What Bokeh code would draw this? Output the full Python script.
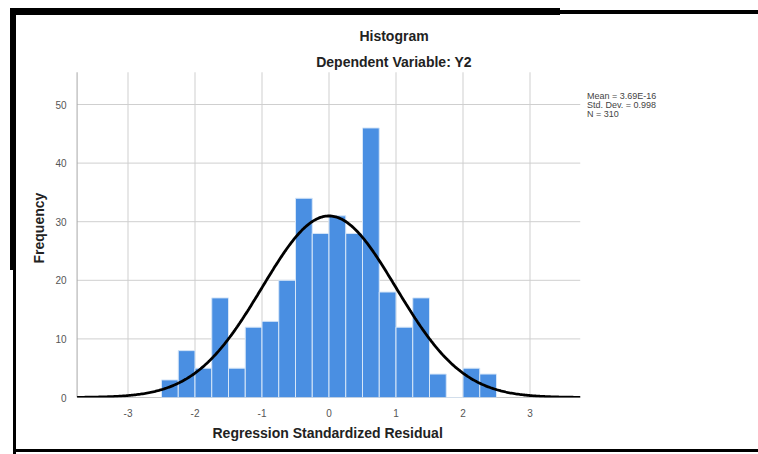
import numpy as np
from bokeh.plotting import figure
from bokeh.models import Range1d, Label, FixedTicker, Title
from bokeh.embed import file_html
from bokeh.resources import INLINE

# ---- data ----
bin_edges = [-2.5, -2.25, -2.0, -1.75, -1.5, -1.25, -1.0, -0.75, -0.5, -0.25, 0.0,
             0.25, 0.5, 0.75, 1.0, 1.25, 1.5, 1.75, 2.0, 2.25, 2.5]
counts = [3, 8, 5, 17, 5, 12, 13, 20, 34, 28, 31, 28, 46, 18, 12, 17, 4, 0, 5, 4]
x_ticks = [-3, -2, -1, 0, 1, 2, 3]
y_ticks = [0, 10, 20, 30, 40, 50]
axis_x_min, axis_x_max = -3.76, 3.75
axis_y_min, axis_y_max = 0, 55.5
stat_mean = 3.69e-16
stat_sd = 0.998
stat_n = 310
stats_lines = ["Mean = 3.69E-16", "Std. Dev. = 0.998", "N = 310"]
title_lines = ["Histogram", "Dependent Variable: Y2"]
x_label = "Regression Standardized Residual"
y_label = "Frequency"

FONT = "Liberation Sans"
W, H = 758, 454
FL, FT = 75, 0              # frame left / top (px)
FW, FH = W - FL, 397        # frame extends to the right edge and top edge
PX_PER_X = 67.0
PX_PER_Y = 5.86
ZERO_X_PX = 327.0
X0 = (FL - 1.5 - ZERO_X_PX) / PX_PER_X
X1 = (FL - 1.5 + FW - ZERO_X_PX) / PX_PER_X
Y0 = 0
Y1 = FH / PX_PER_Y

def dx(cx):
    return X0 + (cx - (FL - 1.5)) / PX_PER_X

def dy(cy):
    return (FT + FH - cy) / PX_PER_Y

p = figure(width=W, height=H, frame_width=FW, frame_height=FH,
           x_range=Range1d(X0, X1), y_range=Range1d(Y0, Y1),
           output_backend="svg", toolbar_location=None,
           min_border_left=FL, min_border_right=0,
           min_border_top=FT, min_border_bottom=H - FT - FH)
p.outline_line_color = None
p.background_fill_color = None
p.border_fill_color = None
p.xgrid.visible = False
p.ygrid.visible = False

# the screenshot's black frame painted behind the (transparent) canvas
p.styles = {
    "background": "linear-gradient(#000,#000) 10px 8px / 550px 7px no-repeat, "
                  "linear-gradient(#000,#000) 560px 10px / 198px 4px no-repeat, "
                  "linear-gradient(#000,#000) 10px 8px / 6px 262px no-repeat, "
                  "linear-gradient(#000,#000) 13px 268px / 3px 186px no-repeat, "
                  "linear-gradient(#000,#000) 13px 449px / 745px 3px no-repeat, #fff"
}

# grid lines limited to the SPSS plot area
p.segment(x0=x_ticks, x1=x_ticks, y0=[axis_y_min] * len(x_ticks), y1=[axis_y_max] * len(x_ticks),
          line_color="#cfcfcf", line_width=1)
p.segment(x0=[axis_x_min] * len(y_ticks), x1=[axis_x_max] * len(y_ticks), y0=y_ticks, y1=y_ticks,
          line_color="#cfcfcf", line_width=1)

# axes (tick labels from Bokeh)
p.xaxis.ticker = FixedTicker(ticks=x_ticks)
p.yaxis.ticker = FixedTicker(ticks=y_ticks)
for ax in (p.xaxis, p.yaxis):
    ax.axis_line_color = None
    ax.major_tick_line_color = None
    ax.minor_tick_line_color = None
    ax.major_label_text_font = FONT
    ax.major_label_text_font_size = "10px"
    ax.major_label_text_color = "#555555"
p.xaxis.major_label_standoff = 5
p.yaxis.major_label_standoff = 3
p.xaxis.major_label_overrides = {t: str(t) for t in x_ticks}

# axis lines of the plot area
p.segment(x0=[axis_x_min, axis_x_min], x1=[axis_x_min, axis_x_max],
          y0=[axis_y_min, axis_y_min], y1=[axis_y_max, axis_y_min],
          line_color="#a8a8a8", line_width=1)

# axis titles (left-aligned titles shifted with offset)
p.add_layout(Title(text=x_label, align="left", offset=137,
                   text_font=FONT, text_font_size="14px", text_font_style="bold",
                   text_color="#222222", standoff=6), "below")
p.add_layout(Title(text=y_label, align="left", offset=134,
                   text_font=FONT, text_font_size="14px", text_font_style="bold",
                   text_color="#222222", standoff=12), "left")

# bars
p.quad(left=bin_edges[:-1], right=bin_edges[1:], bottom=0, top=counts,
       fill_color="#4a8fe2", line_color="#d6e6f8", line_width=1)

# fitted normal curve
bw = bin_edges[1] - bin_edges[0]
xs = np.linspace(axis_x_min, axis_x_max, 400)
ys = stat_n * bw / (stat_sd * np.sqrt(2 * np.pi)) * np.exp(-0.5 * ((xs - stat_mean) / stat_sd) ** 2)
p.line(xs, ys, line_color="black", line_width=2.8)

# titles
p.add_layout(Label(x=dx(392), y=dy(35), text=title_lines[0], text_align="center",
                   text_baseline="middle", text_font=FONT, text_font_size="14px",
                   text_font_style="bold", text_color="#222222"))
p.add_layout(Label(x=dx(392), y=dy(61), text=title_lines[1], text_align="center",
                   text_baseline="middle", text_font=FONT, text_font_size="14px",
                   text_font_style="bold", text_color="#222222"))

# stats
for i, s in enumerate(stats_lines):
    p.add_layout(Label(x=dx(585), y=dy(95 + 9 * i), text=s, text_align="left",
                       text_baseline="middle", text_font=FONT, text_font_size="9px",
                       text_color="#444444"))

open("out.html", "w").write(file_html(p, INLINE))
